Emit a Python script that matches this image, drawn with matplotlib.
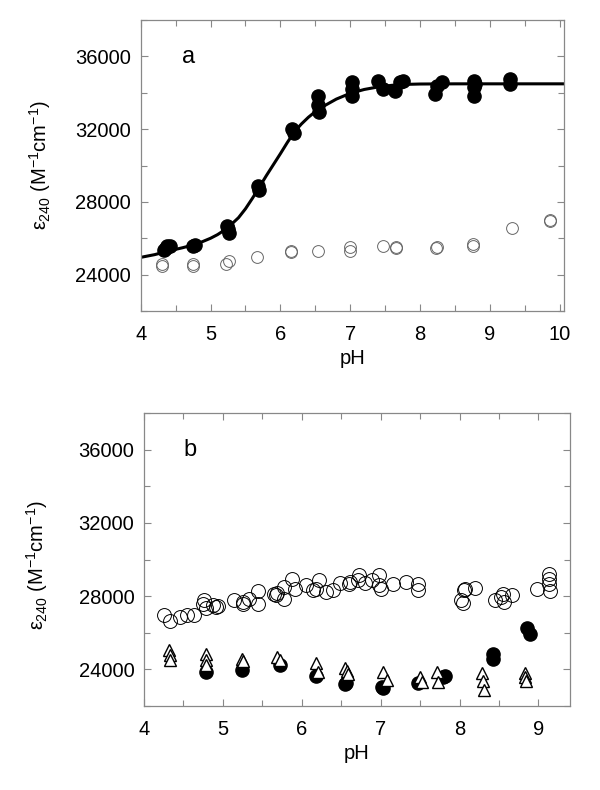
import matplotlib
matplotlib.use('Agg')
import matplotlib.pyplot as plt
from matplotlib.ticker import MultipleLocator

plt.rcParams['font.family'] = ['Liberation Sans', 'DejaVu Sans']
plt.rcParams['mathtext.fontset'] = 'custom'
plt.rcParams['mathtext.rm'] = 'Liberation Sans'
plt.rcParams['mathtext.it'] = 'Liberation Sans'

# ---- panel a ----
a_fill_ph = [4.33, 4.36, 4.38, 4.42, 4.75, 4.78, 5.23, 5.25, 5.26, 5.68, 5.70,
             6.17, 6.19, 6.54, 6.54, 6.55, 7.02, 7.02, 7.02, 7.40, 7.47,
             7.64, 7.71, 7.75, 8.21, 8.24, 8.31, 8.77, 8.77, 8.77, 8.78,
             9.28, 9.29]
a_fill_eps = [25350, 25450, 25550, 25600, 25600, 25650, 26700, 26500, 26300, 28900, 28650,
              32000, 31800, 33820, 33320, 32940, 34590, 34200, 33820, 34650, 34200,
              34100, 34590, 34650, 33930, 34370, 34590, 34650, 34320, 33820, 34500,
              34760, 34480]

a_open_ph = [4.31, 4.31, 4.75, 4.75, 5.22, 5.26, 5.66, 6.15, 6.15, 6.54,
             7.00, 7.00, 7.47, 7.65, 7.66, 8.23, 8.24, 8.76, 8.76, 9.31, 9.86, 9.86]
a_open_eps = [24460, 24610, 24460, 24610, 24610, 24760, 24950, 25230, 25320, 25320,
              25320, 25530, 25560, 25470, 25530, 25470, 25530, 25560, 25710, 26540, 27030, 26940]

fit_ph = [4.0, 4.2, 4.4, 4.6, 4.8, 5.0, 5.1, 5.2, 5.3, 5.4, 5.5, 5.6, 5.7, 5.8, 5.9, 6.0,
          6.1, 6.2, 6.3, 6.4, 6.5, 6.6, 6.8, 7.0, 7.2, 7.4, 7.6, 7.8, 8.0, 8.5, 9.0, 9.5, 10.06]
fit_eps = [24950, 25100, 25300, 25480, 25680, 26000, 26200, 26450, 26770, 27130, 27620, 28200,
           28820, 29450, 30050, 30650, 31270, 31850, 32280, 32650, 32960, 33220, 33650, 33970,
           34180, 34320, 34410, 34460, 34480, 34490, 34490, 34490, 34490]

# ---- panel b ----
b_open_ph = [4.25, 4.33, 4.46, 4.54, 4.64, 4.75, 4.76, 4.78, 4.87, 4.91, 4.94,
             5.14, 5.25, 5.26, 5.33, 5.45, 5.45, 5.65, 5.67, 5.69, 5.78, 5.78,
             5.88, 5.91, 6.05, 6.14, 6.18, 6.22, 6.31, 6.39, 6.48, 6.60,
             6.61, 6.71, 6.72, 6.80, 6.89, 6.98, 6.98, 7.00, 7.15, 7.32, 7.47, 7.47,
             8.02, 8.04, 8.05, 8.07, 8.20, 8.45, 8.53, 8.55, 8.56, 8.67,
             8.98, 9.14, 9.14, 9.14, 9.15]
b_open_eps = [26985, 26640, 26850, 26950, 26950, 27550, 27770, 27370, 27530, 27400, 27450,
              27770, 27670, 27550, 27820, 28270, 27580, 28130, 28040, 28160, 27860, 28490,
              28910, 28400, 28620, 28350, 28400, 28890, 28220, 28310, 28710, 28680,
              28760, 28860, 29180, 28710, 28860, 29180, 28620, 28400, 28680, 28760, 28680, 28310,
              27800, 27620, 28310, 28400, 28440, 27770, 27950, 28130, 27670, 28040,
              28400, 29220, 28950, 28680, 28260]

b_fill_ph = [4.78, 5.24, 5.72, 6.18, 6.55, 6.56, 7.03, 7.02, 7.47, 7.79, 7.81,
             8.42, 8.43, 8.85, 8.89]
b_fill_eps = [23850, 23980, 24220, 23620, 23220, 23250, 22980, 23030, 23250, 23580, 23620,
              24860, 24550, 26250, 25950]

b_tri_ph = [4.32, 4.33, 4.33, 4.78, 4.78, 4.78, 5.24, 5.25, 5.69, 5.72,
            6.18, 6.20, 6.55, 6.57, 6.58, 7.03, 7.08, 7.50, 7.53, 7.72, 7.73,
            8.28, 8.30, 8.31, 8.83, 8.83, 8.84]
b_tri_eps = [25040, 24760, 24490, 24820, 24530, 24220, 24580, 24450, 24670, 24490,
             24350, 23850, 24090, 23910, 23770, 23850, 23440, 23580, 23310, 23850, 23310,
             23800, 23360, 22850, 23800, 23580, 23360]

yticks = [24000, 28000, 32000, 36000]
ylab = r'$\epsilon_{240}$ (M$^{-1}$cm$^{-1}$)'


def style(ax, xmax, xticks):
    ax.set_xlim(4, xmax)
    ax.set_ylim(22000, 38000)
    ax.set_xticks(xticks)
    ax.set_yticks(yticks)
    ax.xaxis.set_minor_locator(MultipleLocator(0.5))
    ax.yaxis.set_minor_locator(MultipleLocator(2000))
    ax.tick_params(which='both', direction='in', top=True, right=True,
                   color='#888888', width=0.8, labelsize=14.5)
    ax.tick_params(which='major', length=5)
    ax.tick_params(which='minor', length=4)
    ax.tick_params(axis='x', pad=10)
    ax.tick_params(axis='y', pad=7)
    for s in ax.spines.values():
        s.set_color('#888888')
        s.set_linewidth(0.9)
    ax.set_xlabel('pH', fontsize=14.5, labelpad=4)
    ax.set_ylabel(ylab, fontsize=14.5)


fig = plt.figure(figsize=(6, 7.9), dpi=100)

ax1 = fig.add_axes([0.2345, 0.6063, 0.7055, 0.3684])
ax1.plot(fit_ph, fit_eps, color='black', linewidth=2.2, zorder=2)
ax1.plot(a_open_ph, a_open_eps, linestyle='none', marker='o', markersize=8.5,
         markerfacecolor='none', markeredgecolor='#666666', markeredgewidth=0.7, zorder=3)
ax1.plot(a_fill_ph, a_fill_eps, linestyle='none', marker='o', markersize=9.5,
         color='black', zorder=4)
style(ax1, 10.06, [4, 5, 6, 7, 8, 9, 10])
ax1.yaxis.set_label_coords(-0.207, 0.5)
ax1.text(0.112, 0.873, 'a', transform=ax1.transAxes, fontsize=17,
         ha='center', va='center')

ax2 = fig.add_axes([0.24, 0.1063, 0.71, 0.3709])
ax2.plot(b_open_ph, b_open_eps, linestyle='none', marker='o', markersize=10,
         markerfacecolor='none', markeredgecolor='black', markeredgewidth=0.7, zorder=3)
ax2.plot(b_fill_ph, b_fill_eps, linestyle='none', marker='o', markersize=9.5,
         color='black', zorder=3)
ax2.plot(b_tri_ph, b_tri_eps, linestyle='none', marker='^', markersize=9,
         markerfacecolor='white', markeredgecolor='black', markeredgewidth=1.0, zorder=4)
style(ax2, 9.4, [4, 5, 6, 7, 8, 9])
ax2.yaxis.set_label_coords(-0.221, 0.48)
ax2.text(0.108, 0.874, 'b', transform=ax2.transAxes, fontsize=17,
         ha='center', va='center')

plt.savefig('out.png', dpi=100)
